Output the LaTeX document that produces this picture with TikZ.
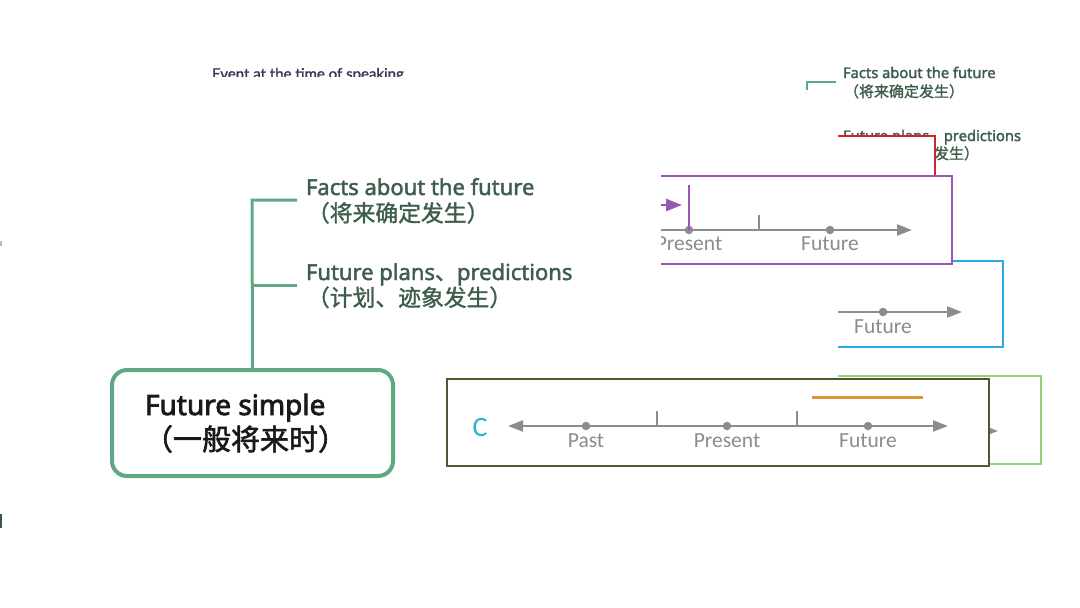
\documentclass[tikz,border=0pt]{standalone}
\usepackage{fontspec}
\setmainfont{Noto Sans}[FakeBold=1.6]
\newfontfamily\medfont{Noto Sans}[FakeBold=2]
\newfontfamily\rootlat{Noto Sans}[FakeBold=2.8]
\newfontfamily\cjk{Noto Sans CJK SC}[FakeBold=1.4]
\newfontfamily\rootcjkfont{Noto Sans CJK SC}[FakeBold=2]
\newfontfamily\tlfont{Carlito}
\newfontfamily\evfont{Lato}[FakeBold=1.5]
\usetikzlibrary{arrows.meta}
\definecolor{mmgreen}{HTML}{5FA883}
\definecolor{mmtext}{HTML}{3E5E4C}
\definecolor{tlgray}{HTML}{8C8C8C}
\definecolor{tlpurple}{HTML}{9857B2}
\definecolor{tlblue}{HTML}{2AAAE0}
\definecolor{tllgreen}{HTML}{96D07A}
\definecolor{tldark}{HTML}{4A5C2E}
\definecolor{tlorange}{HTML}{DF9338}
\definecolor{tlred}{HTML}{D0232B}
\definecolor{tlcyan}{HTML}{2BB5C8}
\definecolor{evtext}{HTML}{3A3656}
\definecolor{edgepurple}{HTML}{B9B2D6}
\definecolor{edgedark}{HTML}{3D5548}
\begin{document}
\begin{tikzpicture}[x=1pt,y=-1pt,
  txt/.style={inner sep=0pt, outer sep=0pt, anchor=base west},
  bigfont/.style={font=\medfont\fontsize{22}{26}\selectfont, text=mmtext},
  bigcjk/.style={font=\cjk\fontsize{22.8}{26}\selectfont, text=mmtext},
  smallfont/.style={font=\medfont\fontsize{14.7}{17}\selectfont, text=mmtext},
  smallcjk/.style={font=\cjk\fontsize{15}{17}\selectfont, text=mmtext},
  rootfont/.style={font=\rootlat\fontsize{28}{32}\selectfont, text=black!90},
  rootcjk/.style={font=\rootcjkfont\fontsize{29}{32}\selectfont, text=black!90},
  branch/.style={draw=mmgreen, line width=3pt},
  tl/.style={draw=tlgray, line width=2.2pt},
  tlarrow/.style={tl, -{Triangle[length=15pt,width=11pt]}},
  tldouble/.style={tl, {Triangle[length=15pt,width=11pt]}-{Triangle[length=15pt,width=11pt]}},
  tick/.style={draw=tlgray, line width=1.5pt},
  dot/.style={circle, fill=tlgray, inner sep=0pt, minimum size=8.5pt},
  tllabel/.style={inner sep=0pt, anchor=base, font=\tlfont\fontsize{21.5}{24}\selectfont, text=tlgray},
  frame/.style={line width=2pt, fill=white}
]
\useasboundingbox (0,0) rectangle (1080,608);
\fill[white] (0,0) rectangle (1080,608);

% left edge marks
\fill[edgepurple] (0,241) rectangle (2,246);
\fill[edgedark] (0,514) rectangle (2,528);

% Event text (clipped)
\begin{scope}
  \clip (0,0) rectangle (1080,76);
  \node[txt, text=evtext, font=\evfont\fontsize{15}{18}\selectfont] (ev) at (212,79) {Event at the time of speaking};
\end{scope}

% small top-right mind map
\coordinate (sb0) at (807,90);
\coordinate (sb1) at (836,82);
\draw[draw=mmgreen, line width=2pt] (sb0) |- (sb1);
\node[txt, smallfont] (sf1) at (843,78) {Facts about the future};
\node[txt, smallcjk] (sf1c) at (844,97) {（将来确定发生）};
\node[txt, smallfont] (sf2) at (843,141) {Future plans{\cjk 、}predictions};
\node[txt, smallcjk] (sf2c) at (844,159) {（计划、迹象发生）};

% red covering frame
\fill[white] (838,136) rectangle (935,177);
\coordinate (r0) at (838,136);
\coordinate (r1) at (935,177);
\draw[tlred, line width=2pt] (r0) -| (r1);

% blue box (clipped)
\begin{scope}
  \clip (838,0) rectangle (1080,608);
  \draw[tlblue, frame] (780,261) rectangle (1003,347);
  \coordinate (bl0) at (780,312);
  \coordinate (bl1) at (962,312);
  \draw[tlarrow] (bl0) -- (bl1);
  \node[dot] (bfut) at (883,312) {};
  \node[tllabel] (bfutl) at (883,333) {Future};
\end{scope}

% light green box (clipped)
\begin{scope}
  \clip (838,0) rectangle (1080,608);
  \draw[tllgreen, frame, line width=1.5pt] (780,376) rectangle (1041,464);
  \coordinate (g0) at (780,431);
  \coordinate (g1) at (998,431);
  \draw[tlarrow] (g0) -- (g1);
\end{scope}

% purple box (clipped)
\begin{scope}
  \clip (661,0) rectangle (1080,608);
  \draw[tlpurple, frame] (600,176) rectangle (952,264);
  \coordinate (p0) at (600,230);
  \coordinate (p1) at (912,230);
  \draw[tlarrow] (p0) -- (p1);
  \draw[tick] (759,215) -- (759,230);
  \node[dot] (ppres) at (689,230) {};
  \node[dot] (pfut) at (830,230) {};
  \coordinate (pv) at (689,185);
  \draw[tlpurple, line width=2.5pt] (pv) -- (ppres.center);
  \coordinate (pa0) at (640,205);
  \coordinate (pa1) at (682,205);
  \draw[tlpurple, line width=2.5pt, -{Triangle[length=16pt,width=12pt]}] (pa0) -- (pa1);
  \node[tllabel] (ppresl) at (689,250) {Present};
  \node[tllabel] (pfutl) at (830,250) {Future};
\end{scope}

% dark box
\draw[tldark, frame] (447,379) rectangle (989,466);
\node[inner sep=0pt, anchor=base, text=tlcyan, font=\tlfont\fontsize{28}{30}\selectfont] (cc) at (480,436) {C};
\coordinate (d0) at (508,426);
\coordinate (d1) at (948,426);
\draw[tldouble] (d0) -- (d1);
\draw[tick] (657,411) -- (657,426);
\draw[tick] (797,411) -- (797,426);
\node[dot] (dpast) at (586,426) {};
\node[dot] (dpres) at (727,426) {};
\node[dot] (dfut) at (868,426) {};
\node[tllabel] (dpastl) at (586,447) {Past};
\node[tllabel] (dpresl) at (727,447) {Present};
\node[tllabel] (dfutl) at (868,447) {Future};
\coordinate (o0) at (812,397);
\coordinate (o1) at (923,397);
\draw[tlorange, line width=3pt] (o0) -- (o1);

% main mind map
\node[draw=mmgreen, line width=4pt, rounded corners=15pt, minimum width=281pt, minimum height=106pt, inner sep=0pt] (root) at (252.5,423) {};
\node[txt, rootfont] (rt1) at (145,415) {Future simple};
\node[txt, rootcjk] (rt2) at (144,450) {（一般将来时）};
\coordinate (j1) at (252,200);
\coordinate (j2) at (252,285);
\coordinate (b1) at (297,200);
\coordinate (b2) at (297,285);
\draw[branch] (root.north) -- (j1) -- (b1);
\draw[branch] (j2) -- (b2);
\node[txt, bigfont] (f1) at (306,195) {Facts about the future};
\node[txt, bigcjk] (f1c) at (307,221.5) {（将来确定发生）};
\node[txt, bigfont] (f2) at (306,280) {Future plans{\cjk 、}predictions};
\node[txt, bigcjk] (f2c) at (307,306) {（计划、迹象发生）};
\end{tikzpicture}
\end{document}
